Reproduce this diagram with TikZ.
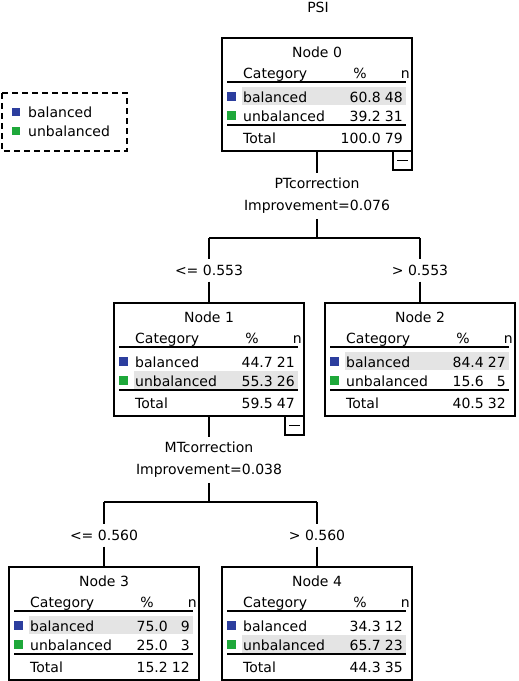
\documentclass[tikz,border=0pt]{standalone}
\usepackage{fontspec}
\setmainfont{DejaVu Sans}
\definecolor{balblue}{RGB}{44,62,158}
\definecolor{unbgreen}{RGB}{30,168,58}
\definecolor{rowgray}{RGB}{228,228,228}
\tikzset{
	box/.style={draw, line width=1.3pt, minimum width=190pt, minimum height=113pt, inner sep=0pt, outer sep=0pt, anchor=north west},
	cell/.style={inner sep=0pt},
	rule/.style={line width=1.4pt},
	lbl/.style={inner xsep=2pt, inner ysep=6pt},
	split/.style={align=center, font=\fontsize{14}{22}\selectfont, inner sep=5pt},
	minusbox/.style={line width=1.1pt},
}
% name, position, node number, balanced %, n, unbalanced %, n, total %, n
\newcommand{\catbox}[9]{%
	\node[box] (#1) at #2 {};
	\ifdim #4pt>#6pt \def\shy{49}\else\def\shy{68}\fi
	\fill[rowgray] ([shift={(20,\shy)}]#1.north west) rectangle ++(164,18);
	\node[cell, anchor=base] at ([shift={(95,19)}]#1.north west) {Node #3};
	\node[cell, anchor=base west] at ([shift={(21,40)}]#1.north west) {Category};
	\node[cell, anchor=base] at ([shift={(138,40)}]#1.north west) {\%};
	\node[cell, anchor=base east] at ([shift={(188,40)}]#1.north west) {n};
	\draw[rule] ([shift={(5,44)}]#1.north west) -- ++(179,0);
	\fill[balblue] ([shift={(5,54)}]#1.north west) rectangle ++(9,9);
	\node[cell, anchor=base west] at ([shift={(21,64)}]#1.north west) {balanced};
	\node[cell, anchor=base east] at ([shift={(159,64)}]#1.north west) {#4};
	\node[cell, anchor=base east] at ([shift={(181,64)}]#1.north west) {#5};
	\fill[unbgreen] ([shift={(5,73)}]#1.north west) rectangle ++(9,9);
	\node[cell, anchor=base west] at ([shift={(21,83)}]#1.north west) {unbalanced};
	\node[cell, anchor=base east] at ([shift={(159,83)}]#1.north west) {#6};
	\node[cell, anchor=base east] at ([shift={(181,83)}]#1.north west) {#7};
	\draw[rule] ([shift={(5,87)}]#1.north west) -- ++(179,0);
	\node[cell, anchor=base west] at ([shift={(21,105)}]#1.north west) {Total};
	\node[cell, anchor=base east] at ([shift={(159,105)}]#1.north west) {#8};
	\node[cell, anchor=base east] at ([shift={(181,105)}]#1.north west) {#9};
}
\begin{document}
\begin{tikzpicture}[x=1pt, y=-1pt, font=\fontsize{14}{17}\selectfont, line cap=butt]
	\useasboundingbox (0,0) rectangle (519,681);
	
	\node (psi) at (318,7) {PSI};
	
	% legend
	\draw[line width=1.2pt, dash pattern=on 6pt off 4pt] (2,93) rectangle (127,151);
	\node[cell, fill=balblue, minimum size=8pt] (kbal) at (16,112) {};
	\node[cell, anchor=base west] (tbal) at (28,117) {balanced};
	\node[cell, fill=unbgreen, minimum size=8pt] (kunb) at (16,131) {};
	\node[cell, anchor=base west] (tunb) at (28,136) {unbalanced};
	
	% nodes
	\catbox{N0}{(222,38)}{0}{60.8}{48}{39.2}{31}{100.0}{79}
	\catbox{N1}{(114,303)}{1}{44.7}{21}{55.3}{26}{59.5}{47}
	\catbox{N2}{(325,303)}{2}{84.4}{27}{15.6}{5}{40.5}{32}
	\catbox{N3}{(9,567)}{3}{75.0}{9}{25.0}{3}{15.2}{12}
	\catbox{N4}{(222,567)}{4}{34.3}{12}{65.7}{23}{44.3}{35}
	
	\draw[minusbox] ([xshift=-19pt]N0.south east) rectangle ++(19,19);
	\draw[minusbox] ([shift={(-15,9.5)}]N0.south east) -- ++(11,0);
	\draw[minusbox] ([xshift=-19pt]N1.south east) rectangle ++(19,19);
	\draw[minusbox] ([shift={(-15,9.5)}]N1.south east) -- ++(11,0);
	
	% first split
	\node[split] (sp0) at (317,196) {PTcorrection\\Improvement=0.076};
	\coordinate (b0) at (317,238);
	\node[lbl] (l1) at (209,270) {<= 0.553};
	\node[lbl] (l2) at (420,270) {> 0.553};
	\draw[line width=1.2pt] (N0) -- (sp0) -- (b0);
	\draw[line width=1.2pt] (l1 |- b0) -- (l2 |- b0);
	\draw[line width=1.2pt] (l1 |- b0) -- (l1) -- (N1);
	\draw[line width=1.2pt] (l2 |- b0) -- (l2) -- (N2);
	
	% second split
	\node[split] (sp1) at (209,460) {MTcorrection\\Improvement=0.038};
	\coordinate (b1) at (209,502);
	\node[lbl] (l3) at (104,535) {<= 0.560};
	\node[lbl] (l4) at (317,535) {> 0.560};
	\draw[line width=1.2pt] (N1) -- (sp1) -- (b1);
	\draw[line width=1.2pt] (l3 |- b1) -- (l4 |- b1);
	\draw[line width=1.2pt] (l3 |- b1) -- (l3) -- (N3);
	\draw[line width=1.2pt] (l4 |- b1) -- (l4) -- (N4);
\end{tikzpicture}
\end{document}
